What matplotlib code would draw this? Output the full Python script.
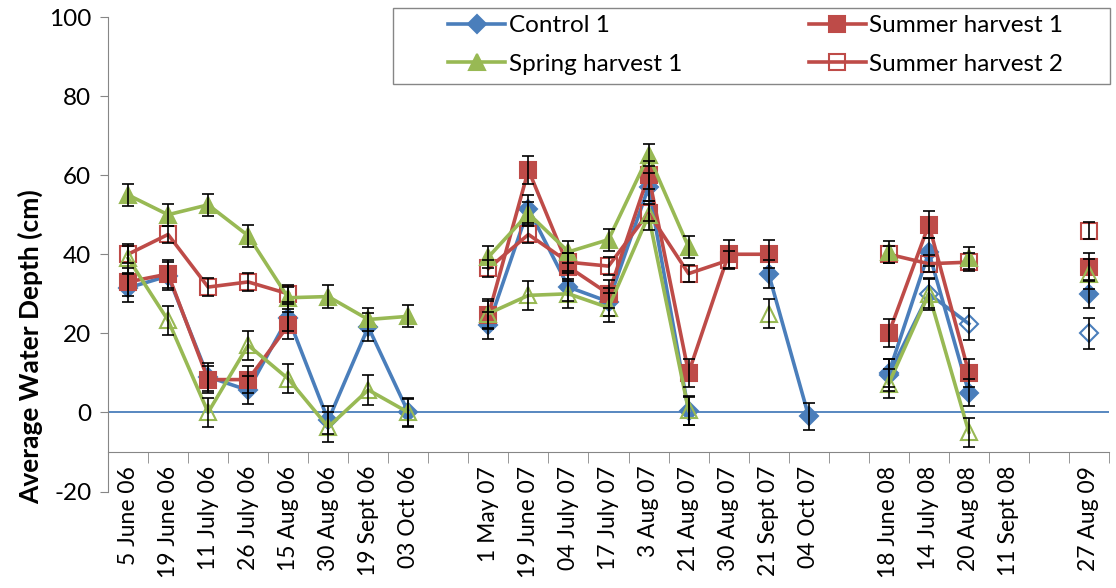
import numpy as np
import matplotlib
matplotlib.use("Agg")
import matplotlib.pyplot as plt
from matplotlib.patches import Rectangle

plt.rcParams['font.family'] = ['Lato', 'DejaVu Sans']
plt.rcParams['axes.unicode_minus'] = False

# --------------------------------------------------------
# DATA (blank categories = gaps between seasons)
# --------------------------------------------------------
dates = ["5 June 06", "19 June 06", "11 July 06", "26 July 06", "15 Aug 06",
         "30 Aug 06", "19 Sept 06", "03 Oct 06", "",
         "1 May 07", "19 June 07", "04 July 07", "17 July 07", "3 Aug 07",
         "21 Aug 07", "30 Aug 07", "21 Sept 07", "04 Oct 07", "",
         "18 June 08", "14 July 08", "20 Aug 08", "11 Sept 08", "",
         "27 Aug 09"]

nan = np.nan
control_1 = [31.5, 34.5, 9, 5.6, 24, -2, 21.6, 0, nan,
             22, 51.5, 31.7, 28, 57, 0.3, nan, 35, -1, nan,
             10, 40.5, 5, nan, nan, 30]
control_2 = [nan, nan, nan, nan, nan, nan, nan, nan, nan,
             nan, nan, nan, nan, nan, nan, nan, nan, nan, nan,
             9.5, 30, 22.4, nan, nan, 20]
spring_1 = [55, 50, 52.5, 44.7, 29, 29.3, 23.5, 24.3, nan,
            39.3, 50.3, 40.6, 43.7, 65, 41.8, nan, nan, nan, nan,
            40.5, nan, 39, nan, nan, nan]
spring_2 = [39, 23.3, 0, 17, 8.5, -3.7, 5.7, 0, nan,
            25, 29.6, 30, 26.5, 49.8, 0.5, nan, 25, nan, nan,
            7.3, 30, -5, nan, nan, 35]
summer_1 = [33, 35, 8.3, 8.3, 22, nan, nan, nan, nan,
            24.6, 61.3, 36.8, 30, 60, 10, 40, 40, nan, nan,
            20, 47.5, 10, nan, nan, 36.8]
summer_2 = [40, 45, 31.7, 33, 30, nan, nan, nan, nan,
            36.4, 45, 38, 37, 50.5, 35.1, 38.5, nan, nan, nan,
            40, 37.6, 38, nan, nan, 46]

# standard errors (approx. per series)
err_control_1 = 3.5
err_control_2 = 4.0
err_spring_1 = 2.8
err_spring_2 = 3.7
err_summer_1 = 3.5
err_summer_2 = 2.2

BLUE = "#4A7EBB"
RED = "#BE4B48"
GREEN = "#98B954"
GRAY = "#868686"

# --------------------------------------------------------
# FIGURE
# --------------------------------------------------------
W, H = 1116, 588
fig = plt.figure(figsize=(W / 100, H / 100), dpi=100)
ax = fig.add_axes([108 / W, 1 - 491.5 / H, (1109 - 108) / W, (491.5 - 17) / H])

x = np.arange(len(dates))

series = [
    ("Control 1", control_1, err_control_1, BLUE, "D", True),
    ("Control 2", control_2, err_control_2, BLUE, "D", False),
    ("Summer harvest 1", summer_1, err_summer_1, RED, "s", True),
    ("Summer harvest 2", summer_2, err_summer_2, RED, "s", False),
    ("Spring harvest 1", spring_1, err_spring_1, GREEN, "^", True),
    ("Spring harvest 2", spring_2, err_spring_2, GREEN, "^", False),
]

handles = {}
for i, (name, vals, err, col, mk, filled) in enumerate(series):
    vals = np.array(vals, dtype=float)
    ms = 11 if mk != "D" else 9.5
    line, = ax.plot(x, vals, color=col, lw=2.6, marker=mk, ms=ms,
                    mfc=col if filled else "none", mec=col, mew=1.5,
                    zorder=3 + i * 0.1)
    ax.errorbar(x, vals, yerr=err, fmt="none", ecolor="black",
                elinewidth=1.2, capsize=4.5, capthick=1.2, zorder=4)
    handles[name] = line

ax.axhline(0, color=BLUE, lw=1.3, zorder=1)

# axes styling
ax.set_xlim(-0.5, len(dates) - 0.5)
ax.set_ylim(-20, 100)
ax.set_yticks(np.arange(-20, 101, 20))
ax.spines["top"].set_visible(False)
ax.spines["right"].set_visible(False)
ax.spines["left"].set_color(GRAY)
ax.spines["bottom"].set_color(GRAY)
ax.spines["bottom"].set_position(("data", -10))
ax.tick_params(axis="y", direction="out", length=6, color=GRAY, labelsize=17.5, pad=6)
ax.set_xticks(x)
ax.set_xticklabels(dates, rotation=90)
ax.set_xticks(np.arange(-0.5, len(dates), 1), minor=True)
ax.tick_params(axis="x", which="major", length=0, labelsize=16.5, pad=10)
ax.tick_params(axis="x", which="minor", direction="out", length=8, color=GRAY)

fig.text(30 / W, 1 - 347 / H, "Average Water Depth (cm)", rotation=90,
         fontsize=19, fontweight="bold", ha="center", va="center")

# legend box
fig.patches.append(Rectangle((393 / W, 1 - 84 / H), 717 / W, 76 / H,
                             transform=fig.transFigure, fill=False,
                             ec=GRAY, lw=1))
order = ["Control 1", "Spring harvest 1", "Summer harvest 1", "Summer harvest 2"]
fig.legend([handles[n] for n in order], order, loc="upper left",
           bbox_to_anchor=(448 / W, 1 - 15 / H), ncol=2, frameon=False,
           fontsize=17.5, borderpad=0, borderaxespad=0, handlelength=2.35,
           handletextpad=0.15, columnspacing=5.2, labelspacing=0.72,
           numpoints=1)

fig.savefig("out.png", dpi=100)
